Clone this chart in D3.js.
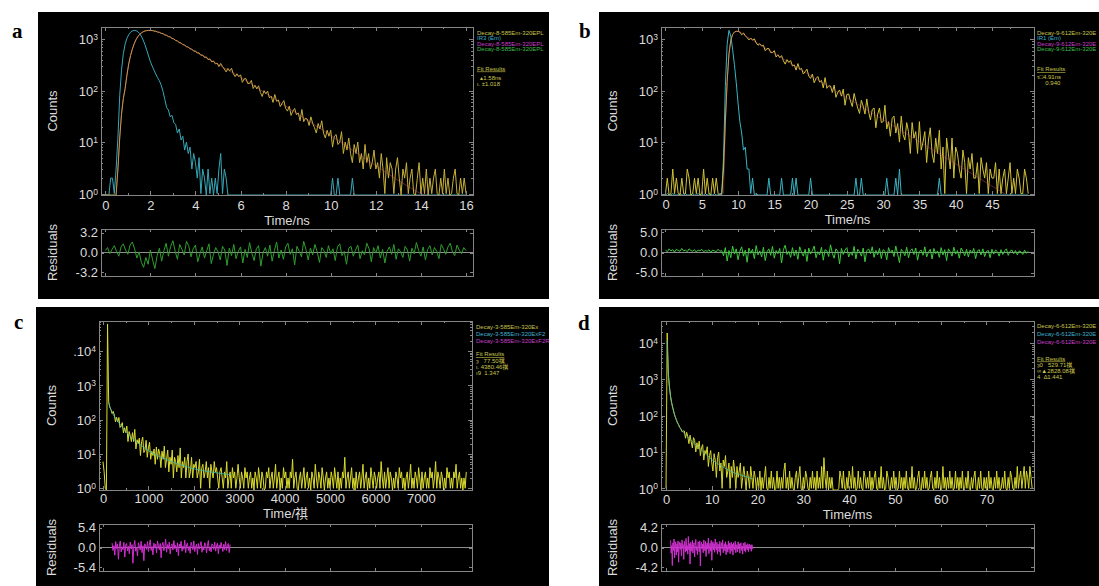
<!DOCTYPE html>
<html>
<head>
<meta charset="utf-8">
<title>decay curves</title>
<style>
  body { margin: 0; background: #fff; }
  svg { display: block; }
</style>
</head>
<body>
<svg id="chart" width="1099" height="586"></svg>
<script src="https://d3js.org/d3.v7.min.js"></script>
<script>
// ---------- panel a : Decay-8-585Em-320EPL (ns) ----------
var aStep = 0.08;
var aDecay = [0,0,0,0,0,0,0,3,
  12,35,70,110,200,330,480,640,810,970,1110,1230,1320,1390,1440,1465,1478,
  1472,1475,1431,1427,1370,1358,1291,1279,1204,1190,1118,1104,1030,1012,940,926,850,845,779,772,705,708,646,640,584,590,
  536,541,484,493,440,452,399,414,361,377,330,
  342,293,337,293,263,231,270,242,271,212,187,212,187,203,
  145,169,171,137,138,158,110,127,108,124,92,77,100,87,98,72,78,59,84,62,66,49,56,64,45,
  40,50,33,40,45,34,37,26,43,25,29,28,21,31,23,19,15,23,18,26,15,12,17,13,17,
  8,13,14,9,10,16,6,10,7,12,6,4,9,6,10,4,6,3,9,4,6,3,4,7,3,
  4,2,6,3,1,5,2,4,3,1,3,5,2,0,3,2,4,1,2,3,1,0,2,4,1,2,1,3,0,2,1,2,3,1,0,2,1,3,1,2,0,1,2,3,1,0,2,1,2,1];
var aIrf = [0,0,0,2,2,1,3,12,80,250,
  520,800,1030,1220,1360,1440,1478,1465,1400,1290,
  1140,960,780,610,470,365,300,250,210,178,
  155,128,96,68,47,42,31,33,24,22,
  15,18,11,13,7,10,6,8,3,6,
  4,2,5,1,3,2,0,3,1,2,
  0,2,1,3,6,1,3,2,
  0,0,0,0,0,0,0,0,0,0, 0,0,0,0,0,0,0,0,0,0, 0,0,0,0,0,0,0,0,0,0, 0,0,0,0,0,0,0,0,0,0, 0,0,0,0,0,0,0,0,0,0,
  0,0,0,0,0,0,0,0,2,0, 0,2,0,0,0,0,0,0,0,2, 0,0,0,0,0,0,0,0,0,0, 0,0,0,0,0,0,0,0,0,0, 0,0,0,0,0,0,0,0,0,0,
  0,0,0,0,0,0,0,0,0,0, 0,0,0,0,0,0,0,0,0,0, 0,0,0,0,0,0,0,0,0,0, 0,0,0];
var aFit = [[0.48,1],[0.56,3],[0.64,12],[0.72,35],[0.8,70],[0.88,110],[0.96,200],[1.04,330],[1.12,480],[1.2,640],
  [1.28,810],[1.36,970],[1.44,1110],[1.52,1230],[1.6,1320],[1.76,1440],[1.92,1478],[2.0,1479],[2.24,1419],[2.56,1265],
  [2.88,1091],[3.2,912],[3.6,724],[4.0,575],[4.8,363],[5.6,229],[6.0,182],[7.0,96],[8.0,50],[9.0,26],
  [10.0,13.5],[11.0,6.8],[12.0,3.5],[13.0,1.8],[13.6,1.25],[14.0,1.0],[14.2,0.9]];
var aResStep = 0.1;
var aRes = [0.3,0.8,-0.2,0.5,1.1,0.2,-0.6,0.9,1.4,0.4,
  -0.3,1.2,1.7,0.6,-0.9,0.1,-1.6,-2.4,-0.8,-1.9,
  0.4,-1.2,-2.6,-0.5,0.7,-1.4,0.3,1.5,-0.6,1.0,
  1.9,0.2,-1.1,1.3,0.5,-0.4,1.8,1.1,-0.7,0.6,
  1.2,-1.5,-0.2,0.9,-0.9,0.3,1.4,-1.8,-0.3,0.8,
  0.1,-1.2,1.0,0.4,-2.1,0.7,-0.5,1.3,-1.0,0.2,
  0.9,-1.7,0.5,-0.8,1.6,-0.1,-1.3,0.6,1.1,-2.2,
  0.0,0.8,-0.6,1.2,-1.4,0.3,1.7,-0.9,0.4,-1.1,
  0.9,1.5,-0.3,0.6,-2.0,1.0,0.2,-0.7,1.8,0.5,
  -1.2,0.7,-0.4,1.3,0.1,-1.6,0.8,0.3,-0.8,1.1,
  -0.2,0.6,-1.3,0.9,1.4,-0.5,0.2,-1.9,0.7,1.0,
  -0.6,0.4,1.2,-1.0,0.3,-0.4,1.5,0.6,-1.5,0.8,
  -0.1,1.1,-0.9,0.5,-1.7,0.2,0.9,-0.3,1.3,-1.1,
  0.6,0.1,-0.8,1.0,0.4,-1.4,0.7,-0.2,1.6,0.3,
  -0.6,0.9,-1.2,0.5,1.1,-0.4,0.8,0.2,-1.0,1.3,
  0.6,-0.3,0.9,1.5,0.1,-0.5,1.2,0.4,-0.2,0.8,
  0.3];
var aXTicks = [0, 2, 4, 6, 8, 10, 12, 14, 16];
var aResTicks = [-3.2, 0, 3.2];
var aLegend = ["Decay-8-585Em-320EPL", "IR3 (Em)", "Decay-8-585Em-320EPL", "Decay-8-585Em-320EPL"];
var aFitText = ["Fit Results", "\u00a0\u00a0\u25b41.58ns", "\u03b9. \u00b11.018"];

// ---------- panel b : Decay-9-612Em-320E (ns) ----------
var bStep = 0.25;
var bDecay = [1,2,0,1,3,1,2,1,0,2,1,1,3,2,0,1,2,1,2,0,1,3,1,2,1,0,2,1,2,1,0,1,
  3,25,150,520,950,1230,1370,1420,1413,
  1374,1217,1313,1172,1071,966,1052,957,1014,845,
  760,814,733,762,595,656,656,549,547,598,
  449,498,437,479,380,327,400,354,384,301,
  316,250,335,257,270,210,233,261,192,173,
  210,142,172,188,146,158,113,179,111,124,
  123,92,128,74,93,103,78,107,52,84,
  86,63,49,88,62,46,36,65,50,35,
  69,39,27,43,46,19,35,46,24,25,
  52,18,25,13,29,32,15,23,10,32,
  14,11,24,16,6,24,12,16,6,25,
  7,10,16,4,11,19,6,4,12,6,
  17,3,8,1,12,6,3,12,2,8,
  6,3,2,7,4,1,5,3,6,2,2,4,1,5,3,2,4,1,3,2,2,4,1,3,1,2,3,1,2,4,1,2,1,3,2,1,1,3,2,1];
var bIrf = [0,1,0,0,1,0,0,0,1,0,0,1,0,0,0,1,0,0,1,0,0,0,1,0,1,0,0,1,0,0,1,0,
  5,120,800,1480,1150,640,320,145,58,25,15,7,8,3,3,1,2,0,1,
  0,0,0,0,0,0,2,0,0,0, 0,0,0,2,0,0,0,0,0,2, 0,2,0,0,0,0,0,0,0,2, 0,0,0,0,0,0,0,0,0,0, 0,0,0,0,0,0,0,0,0,0,
  0,0,0,0,2,0,0,2,0,0, 0,0,0,0,0,0,0,0,0,0, 0,2,0,0,0,0,2,0,3,0, 0,0,0,0,0,0,0,0,0,0, 0,0,0,0,0,0,0,0,0,0,
  2,0,0,0,0,0,0,0,0,0, 0,0,0,0,0,0,0,0,0,0, 0,0,0,0,0,0,0,0,0,0, 0,0,0,0,0,0,0,0,0,0, 0,0,0,0,0,0,0,0,0,0];
var bFit = [[8,1],[8.25,20],[8.5,140],[8.75,500],[9,930],[9.25,1200],[9.5,1350],[9.75,1410],[10,1413],[11,1160],
  [12,952],[14,642],[16,432],[18,291],[20,196],[25,73],[30,27.3],[35,10.2],[40,3.8],[45,1.4],[47,0.95]];
var bResStep = 0.25;
var bRes = [0.6,0.2,0.9,0.4,0.7,0.1,0.8,0.5,0.3,1.0,0.4,0.6,0.2,0.9,0.5,0.3,0.7,0.1,0.6,0.4,0.8,0.2,0.5,0.3,0.7,0.0,0.6,0.4,0.2,0.8,0.3,0.5,
  -0.8,1.2,-2.1,0.5,-1.3,1.6,-0.4,0.9,-1.8,0.3,1.4,-0.9,0.6,
  -2.4,1.1,-0.2,0.8,-1.5,1.7,-0.6,0.4,-1.1,1.3,-2.0,0.2,0.9,
  -0.7,1.5,-1.4,0.5,-0.3,1.0,-2.6,0.7,1.8,-0.5,0.3,-1.2,1.2,
  -0.8,0.6,-1.7,1.4,0.1,-0.9,0.8,-2.2,1.1,-0.4,0.5,1.6,-1.3,
  0.2,-0.6,1.3,-1.9,0.7,0.4,-1.0,1.9,-0.2,-1.4,0.9,0.3,-2.8,
  1.0,-0.5,0.6,1.2,-1.1,0.1,-0.7,1.5,-1.6,0.8,0.2,-0.9,1.1,
  -2.3,0.4,0.9,-0.3,1.4,-1.2,0.5,-0.6,1.0,-1.5,0.7,0.3,-1.8,
  1.2,-0.1,0.6,-1.0,1.6,-0.4,-2.5,0.8,0.2,-0.8,1.3,-1.3,0.5,
  0.9,-0.5,1.1,-1.9,0.3,0.6,-0.7,1.4,-1.1,0.1,0.8,-1.6,1.0,
  -0.3,0.4,-1.2,1.2,-0.6,0.7,-2.0,0.9,0.2,-0.9,1.3,-0.4,0.5,
  -1.4,1.1,0.3,-0.8,0.8,-1.1,0.6,-0.2,1.0,-1.5,0.4,0.7,-0.6,
  0.9,-1.0,0.3,0.5,-1.3,0.8,-0.4,0.6,0.2,-0.9,0.7,-0.5,0.4,
  0.9,-0.7,0.3,0.6,-0.3,0.5,-0.6,0.4,0.2,-0.5,0.6,-0.2,0.3];
var bXTicks = [0, 5, 10, 15, 20, 25, 30, 35, 40, 45];
var bResTicks = [-5, 0, 5];
var bLegend = ["Decay-9-612Em-320E", "IR1 (Em)", "Decay-9-612Em-320E", "Decay-9-612Em-320E"];
var bFitText = ["Fit Results", "\u03c4\u25a14.91ns", "\u00a0\u00a0\u00a0\u00a0\u00a00.940"];

// ---------- panel c : Decay-3-585Em-320Ex ----------
var cStep = 25;
var cDecay = [6,3,1,0,62000,330,232,196,151,175,
  136,87,117,86,116,59,66,82,41,58,
  42,65,23,45,35,23,42,23,52,14,
  26,20,29,9,23,31,11,13,25,8,
  15,22,7,12,9,14,5,16,7,14,
  10,4,12,7,17,4,7,13,3,8,
  5,13,2,8,6,3,9,4,15,2,
  6,4,8,2,6,10,2,3,8,2,
  5,4,6,2,3,7,1,4,5,2,
  3,6,2,4,1,5,3,2,6,3,
  4,
  2,1,3,4,2,1,3,2,6,1,2,3,1,4,2,3,1,2,5,2,1,3,2,1,4,2,3,1,
  2,3,1,2,0,3,2,1,4,2,1,3,2,0,1,3,2,4,1,2,3,1,2,5,
  1,2,3,0,2,1,4,2,3,1,2,1,3,2,7,1,2,3,1,0,2,3,1,2,
  4,1,2,3,1,2,0,3,2,1,5,2,1,3,2,1,4,2,0,2,3,1,2,1,
  3,2,1,4,2,1,3,0,2,1,3,2,8,1,2,3,1,2,4,1,2,0,3,1,
  2,3,1,2,5,1,2,3,0,2,1,4,2,1,3,2,1,2,3,1,6,2,1,3,
  1,2,4,1,3,2,0,2,1,3,2,1,4,2,3,1,2,0,2,3,1,2,5,1,
  2,1,3,2,1,4,2,0,3,1,2,3,1,2,1,4,2,3,1,2,6,1,3,2,
  1,3,2,0,2,1,4,2,3,1,2,1,3,2,5,1,2,3,1,2,0,2,1,3];
var cFit = [[125,316],[150,240],[200,166],[300,100],[400,66],[500,46],[600,33],[700,25],[800,19.5],[900,15.5],
  [1000,12.6],[1200,8.9],[1400,6.8],[1600,5.4],[1800,4.4],[2000,3.7],[2400,2.95],[2800,2.5]];
var cResStart = 200, cResStep = 20;
var cRes = [1.2,-0.8,0.5,-2.1,1.6,-0.3,0.9,-3.2,0.4,1.8,
  -1.2,0.2,-0.6,1.4,-2.6,0.7,1.1,-0.9,0.3,-1.7,
  1.5,-0.4,0.8,-4.3,0.6,1.9,-1.0,0.1,-2.3,1.3,
  0.4,-0.7,1.7,-1.4,0.5,-3.6,1.0,0.2,-0.5,1.6,
  -1.1,0.7,2.1,-0.8,0.3,-2.0,1.2,-0.2,0.9,-1.5,
  1.8,0.4,-0.6,1.1,-2.8,0.6,1.4,-0.9,0.2,2.3,
  -1.3,0.8,-0.4,1.5,-1.8,0.5,1.0,-0.7,1.9,-0.3,
  0.6,-1.2,1.3,-2.2,0.9,0.1,1.7,-1.0,0.4,-0.5,
  2.0,-1.4,0.7,1.2,-0.8,0.3,-1.6,1.4,0.5,-0.6,
  1.8,-1.1,0.2,0.9,-1.9,1.1,-0.4,0.6,1.6,-1.3,
  0.3,-0.7,1.3,0.8,-1.5,0.5,1.9,-0.9,0.2,-1.2,
  1.0,0.6,-0.5,1.5,-1.0,0.4,1.2,-1.7,0.7,-0.3,
  1.4,0.1,-1.1,0.9,-0.6,1.6,-0.8,0.5,1.1,-1.4,
  0.8];
var cXTicks = [0, 1000, 2000, 3000, 4000, 5000, 6000, 7000];
var cResTicks = [-5.4, 0, 5.4];
var cLegend = ["Decay-3-585Em-320Ex", "Decay-3-585Em-320ExF2", "Decay-3-585Em-320ExF2R"];
var cFitText = ["Fit Results", "\u021d\u00a0\u00a0 77.50\u797a", "\u03b9. 4380.46\u797a", "\u01319\u00a0 1.347"];

// ---------- panel d : Decay-6-612Em-320E (ms) ----------
var dStep = 0.25;
var dDecay = [1,19000,1500,620,330,220,160,120,93,78,64,57,47,44,36,38,
  38,24,35,27,17,29,19,13,25,21,
  10,18,12,20,8,13,16,6,11,9,
  14,4,8,11,5,3,9,6,2,7,
  10,3,5,1,6,4,8,2,3,5,
  1,4,2,6,3,1,4,2,3,5,
  1,2,4,2,0,3,2,1,4,2,
  1,3,2,0,2,
  1,3,0,2,1,2,4,1,0,2,1,3,1,2,0,1,3,1,2,0,2,1,3,5,
  1,2,0,3,1,2,1,0,2,3,1,2,4,1,0,2,1,3,2,1,0,2,1,3,
  1,2,0,3,1,2,1,4,1,7,2,1,3,0,2,1,2,0,0,0,0,0,1,3,
  2,1,3,1,0,2,1,3,2,1,4,1,2,0,1,3,1,2,1,0,3,2,1,2,
  1,3,0,2,1,2,3,1,0,2,1,4,1,2,0,1,3,2,1,0,2,1,3,1,
  2,0,1,3,1,2,0,2,1,3,1,0,2,1,4,1,2,0,1,2,3,1,0,2,
  1,3,1,2,0,1,2,3,1,0,2,1,3,1,2,0,1,4,1,2,0,2,1,3,
  1,2,0,1,3,1,2,0,2,1,3,0,1,2,1,3,1,0,2,1,2,3,1,0,
  2,1,3,1,0,2,1,2,0,3,1,2,1,0,2,1,3,1,2,0,1,2,1,3,
  1,0,2,1,3,2,1,0,2,1,4,1,2,3,1,2,4,1,3,2,1,4,2,1];
var dFit = [[0.25,12000],[0.5,1400],[0.75,600],[1,330],[1.5,160],[2,93],[2.5,64],[3,48],[4,32],[5,24],
  [6,18],[7,14],[8,10.5],[9,8],[10,6.2],[12,4.2],[14,3],[16,2.4],[18,2],[19,1.8]];
var dResStart = 1, dResStep = 0.125;
var dRes = [1.5,-1.2,0.4,-3.8,1.0,-0.6,1.8,-2.2,0.3,1.2,
  -1.6,0.7,-0.9,1.4,-3.1,0.5,1.1,-0.4,0.9,-1.8,
  1.6,-0.2,0.6,-2.5,1.3,0.2,-1.0,1.9,-0.7,0.4,
  -1.4,2.3,-0.5,0.8,-3.5,1.1,0.3,-0.8,1.5,-1.2,
  0.6,1.0,-2.0,0.4,1.7,-0.6,0.2,-1.5,1.2,0.8,
  -0.9,1.4,-3.9,0.5,1.1,-0.3,0.7,-1.1,1.6,0.1,
  -0.7,1.3,-1.9,0.6,1.0,-0.4,2.0,-1.3,0.4,0.9,
  -0.8,1.5,-2.7,0.3,1.2,-0.5,0.8,-1.0,1.8,0.2,
  -0.6,1.1,-1.4,0.7,0.4,-0.9,1.3,-1.7,0.5,1.0,
  -0.3,1.6,-1.1,0.2,0.8,-0.7,1.2,-1.5,0.6,0.3,
  -1.0,1.4,-0.4,0.9,-1.3,0.5,1.1,-0.8,0.7,-1.6,
  1.0,0.2,-0.5,1.3,-1.1,0.6,0.4,-0.9,1.2,-0.3,
  0.8,-1.2,0.5,1.0,-0.6,0.3,-1.4,0.9,0.4,-0.7,
  1.1,-1.0,0.6,0.2,-0.5,0.8,-0.9,0.4,0.7,-0.3,
  0.5,-0.8,0.6,0.1,-0.4];
var dXTicks = [0, 10, 20, 30, 40, 50, 60, 70];
var dResTicks = [-4.2, 0, 4.2];
var dLegend = ["Decay-6-612Em-320E", "Decay-6-612Em-320E", "Decay-6-612Em-320E"];
var dFitText = ["Fit Results", "\u021d0\u00a0\u00a0 529.71\u797a", "\u221e\u25b22828.08\u797a", "4\u00a0\u00a0\u2206" + "1.441"];

// ---------- styles ----------
var FONT = '"Liberation Sans", Arial, "Noto Sans CJK SC", sans-serif';
var FRAME = "#858585";
var TXT = "#dcdcdc";
var LY = "#c9c44c", LC = "#3fb3cf", LM = "#c83fc8", LG = "#3bbf47";

var panels = [
  { letter: "a", letterXY: [12, 38], box: [38, 12, 549, 299],
    main: [101, 27, 473, 195], res: [101, 229, 473, 276],
    xDomain: [-0.19, 16.31], yDomain: [0.94, 1720], decades: [1, 10, 100, 1000],
    xTicks: aXTicks, tickPad: 6, xTitle: "Time/ns", titleY: 225, labelX: 56.7,
    resDomain: [-3.8, 3.8], resTicks: aResTicks,
    series: [
      { values: aIrf, t0: 0, dt: aStep, color: "#37a8b9" },
      { values: aDecay, t0: 0, dt: aStep, color: "#c6b03a" },
      { pairs: aFit, color: "#e0607c", opacity: 0.42 }
    ],
    resid: { values: aRes, t0: 0, dt: aResStep, color: "#2f9e2f" },
    legend: { x: 477, ys: [34.9, 40.4, 45.9, 51.3], colors: [LY, LC, LM, LG], texts: aLegend,
      fitYs: [70.5, 79.5, 85.5], fitTexts: aFitText } },
  { letter: "b", letterXY: [579, 38], box: [599, 12, 1099, 299],
    main: [661, 27, 1034, 195], res: [661, 229, 1034, 276],
    xDomain: [-0.62, 50.8], yDomain: [0.94, 1720], decades: [1, 10, 100, 1000],
    xTicks: bXTicks, tickPad: 5, xTitle: "Time/ns", titleY: 224, labelX: 617,
    resDomain: [-5.8, 5.8], resTicks: bResTicks,
    series: [
      { values: bIrf, t0: 0, dt: bStep, color: "#38b4c4" },
      { values: bDecay, t0: 0, dt: bStep, color: "#d2c236" },
      { pairs: bFit, color: "#d04c90", opacity: 0.42 }
    ],
    resid: { values: bRes, t0: 0, dt: bResStep, color: "#3ccb3c" },
    legend: { x: 1037, ys: [34.9, 40.4, 45.9, 51.3], colors: [LY, LC, LM, LG], texts: bLegend,
      fitYs: [71, 78.5, 84.7], fitTexts: bFitText } },
  { letter: "c", letterXY: [14, 329], box: [36, 307, 549, 586],
    main: [99, 321, 472, 490], res: [99, 524, 472, 571],
    xDomain: [-88, 8126], yDomain: [0.89, 75400], decades: [1, 10, 100, 1000, 10000], dotDecade: 4,
    xTicks: cXTicks, tickPad: 4, xTitle: "Time/\u797a", titleY: 518, labelX: 55.5,
    resDomain: [-6.4, 6.4], resTicks: cResTicks,
    series: [
      { values: cDecay, t0: 0, dt: cStep, color: "#dcdc2e" },
      { pairs: cFit, color: "#3cb8b4", opacity: 0.8 }
    ],
    resid: { values: cRes, t0: cResStart, dt: cResStep, color: "#d22ed2" },
    legend: { x: 476, ys: [328.9, 336.1, 343.2], colors: [LY, LC, LM], texts: cLegend,
      fitYs: [356.2, 362.5, 368.7, 375], fitTexts: cFitText } },
  { letter: "d", letterXY: [578, 330], box: [599, 307, 1099, 586],
    main: [661, 321, 1034, 490], res: [661, 524, 1034, 571],
    xDomain: [-1.1, 80.4], yDomain: [0.9, 40600], decades: [1, 10, 100, 1000, 10000],
    xTicks: dXTicks, tickPad: 5, xTitle: "Time/ms", titleY: 519, labelX: 617,
    resDomain: [-4.95, 4.95], resTicks: dResTicks,
    series: [
      { values: dDecay, t0: 0, dt: dStep, color: "#d8d82c" },
      { pairs: dFit, color: "#52b8a6", opacity: 0.8 }
    ],
    resid: { values: dRes, t0: dResStart, dt: dResStep, color: "#d030d0" },
    legend: { x: 1037, ys: [328.4, 336.2, 343.9], colors: [LY, LC, LM], texts: dLegend,
      fitYs: [360.5, 366.7, 372.7, 378.8], fitTexts: dFitText } }
];

var svg = d3.select("#chart");
svg.append("rect").attr("width", 1099).attr("height", 586).attr("fill", "#fff");

function toPoints(s) {
  if (s.pairs) return s.pairs;
  return s.values.map(function (v, i) { return [s.t0 + i * s.dt, v]; });
}

function styleAxis(g) {
  g.select(".domain").remove();
  g.selectAll("line").attr("stroke", FRAME).attr("shape-rendering", "crispEdges");
  g.selectAll("text").attr("fill", TXT).attr("font-size", 13).attr("font-family", FONT);
}

function drawPanel(p, idx) {
  var g = svg.append("g");
  g.append("rect")
    .attr("x", p.box[0]).attr("y", p.box[1])
    .attr("width", p.box[2] - p.box[0]).attr("height", p.box[3] - p.box[1])
    .attr("fill", "#000");

  svg.append("text")
    .attr("x", p.letterXY[0]).attr("y", p.letterXY[1])
    .attr("font-family", '"Liberation Serif", "Times New Roman", serif')
    .attr("font-weight", "bold").attr("font-size", 21).attr("fill", "#000")
    .text(p.letter);

  var m = p.main, r = p.res;
  var x = d3.scaleLinear().domain(p.xDomain).range([m[0], m[2]]);
  var y = d3.scaleLog().domain(p.yDomain).range([m[3], m[1]]).clamp(true);
  var yr = d3.scaleLinear().domain(p.resDomain).range([r[3], r[1]]);
  var lo = p.yDomain[0];

  var step = p.xTicks[1] - p.xTicks[0];
  var xMinor = d3.range(p.xTicks[0] + step / 2, p.xDomain[1], step);
  var yMinor = [];
  p.decades.forEach(function (dv) {
    for (var k = 2; k <= 9; k++) {
      if (k * dv > p.yDomain[0] && k * dv < p.yDomain[1]) yMinor.push(k * dv);
    }
  });

  // clip areas
  g.append("clipPath").attr("id", "clipm" + idx).append("rect")
    .attr("x", m[0]).attr("y", m[1]).attr("width", m[2] - m[0]).attr("height", m[3] - m[1]);
  g.append("clipPath").attr("id", "clipr" + idx).append("rect")
    .attr("x", r[0]).attr("y", r[1]).attr("width", r[2] - r[0]).attr("height", r[3] - r[1]);

  // main curves
  var rawLine = d3.line()
    .x(function (d) { return x(d[0]); })
    .y(function (d) { return y(d[1] > 0 ? d[1] : lo); });
  var fitLine = d3.line().curve(d3.curveMonotoneX)
    .x(function (d) { return x(d[0]); })
    .y(function (d) { return y(d[1] > 0 ? d[1] : lo); });
  var plot = g.append("g").attr("clip-path", "url(#clipm" + idx + ")");
  p.series.forEach(function (s) {
    plot.append("path")
      .datum(toPoints(s))
      .attr("d", s.pairs ? fitLine : rawLine)
      .attr("fill", "none")
      .attr("stroke", s.color)
      .attr("stroke-opacity", s.opacity || 1)
      .attr("stroke-width", 1)
      .attr("stroke-linejoin", "round");
  });

  // residuals
  var resLine = d3.line()
    .x(function (d) { return x(d[0]); })
    .y(function (d) { return yr(d[1]); });
  var rplot = g.append("g").attr("clip-path", "url(#clipr" + idx + ")");
  rplot.append("line")
    .attr("x1", r[0]).attr("x2", r[2]).attr("y1", yr(0)).attr("y2", yr(0))
    .attr("stroke", "#8e8e8e").attr("stroke-width", 1);
  rplot.append("path")
    .datum(toPoints(p.resid))
    .attr("d", resLine)
    .attr("fill", "none")
    .attr("stroke", p.resid.color)
    .attr("stroke-width", 1)
    .attr("stroke-linejoin", "round");

  // frames
  [m, r].forEach(function (f) {
    g.append("rect")
      .attr("x", f[0] + 0.5).attr("y", f[1] + 0.5)
      .attr("width", f[2] - f[0]).attr("height", f[3] - f[1])
      .attr("fill", "none").attr("stroke", FRAME).attr("shape-rendering", "crispEdges");
  });

  // main x axis
  var xb = g.append("g").attr("transform", "translate(0," + m[3] + ")")
    .call(d3.axisBottom(x).tickValues(p.xTicks).tickSize(-4).tickPadding(p.tickPad).tickFormat(d3.format("d")));
  styleAxis(xb);
  styleAxis(g.append("g").attr("transform", "translate(0," + m[3] + ")")
    .call(d3.axisBottom(x).tickValues(xMinor).tickSize(-2).tickFormat("")));
  styleAxis(g.append("g").attr("transform", "translate(0," + m[1] + ")")
    .call(d3.axisTop(x).tickValues(p.xTicks).tickSize(-4).tickFormat("")));
  styleAxis(g.append("g").attr("transform", "translate(0," + m[1] + ")")
    .call(d3.axisTop(x).tickValues(xMinor).tickSize(-2).tickFormat("")));

  // main log y axis
  var yl = g.append("g").attr("transform", "translate(" + m[0] + ",0)")
    .call(d3.axisLeft(y).tickValues(p.decades).tickSize(-4).tickFormat(""));
  styleAxis(yl);
  yl.selectAll(".tick").each(function (dv) {
    var k = Math.round(Math.log10(dv));
    var t = d3.select(this).append("text")
      .attr("x", -3).attr("dy", "0.36em").attr("text-anchor", "end")
      .attr("fill", TXT).attr("font-size", 13).attr("font-family", FONT);
    t.append("tspan").text((p.dotDecade === k ? "." : "") + "10");
    t.append("tspan").attr("dy", "-0.5em").attr("font-size", 8.5).text(k);
  });
  styleAxis(g.append("g").attr("transform", "translate(" + m[0] + ",0)")
    .call(d3.axisLeft(y).tickValues(yMinor).tickSize(-2).tickFormat("")));
  styleAxis(g.append("g").attr("transform", "translate(" + m[2] + ",0)")
    .call(d3.axisRight(y).tickValues(p.decades).tickSize(-4).tickFormat("")));
  styleAxis(g.append("g").attr("transform", "translate(" + m[2] + ",0)")
    .call(d3.axisRight(y).tickValues(yMinor).tickSize(-2).tickFormat("")));

  // residual axes
  styleAxis(g.append("g").attr("transform", "translate(" + r[0] + ",0)")
    .call(d3.axisLeft(yr).tickValues(p.resTicks).tickSize(-3).tickPadding(3)
      .tickFormat(function (d) { return d.toFixed(1); })));
  styleAxis(g.append("g").attr("transform", "translate(" + r[2] + ",0)")
    .call(d3.axisRight(yr).tickValues(p.resTicks).tickSize(-3).tickFormat("")));
  styleAxis(g.append("g").attr("transform", "translate(0," + r[3] + ")")
    .call(d3.axisBottom(x).tickValues(p.xTicks).tickSize(-3).tickFormat("")));
  styleAxis(g.append("g").attr("transform", "translate(0," + r[1] + ")")
    .call(d3.axisTop(x).tickValues(p.xTicks).tickSize(-3).tickFormat("")));

  // titles
  g.append("text")
    .attr("x", (m[0] + m[2]) / 2).attr("y", p.titleY)
    .attr("text-anchor", "middle").attr("fill", TXT)
    .attr("font-size", 13).attr("font-family", FONT)
    .text(p.xTitle);
  g.append("text")
    .attr("transform", "translate(" + p.labelX + "," + (m[1] + m[3]) / 2 + ") rotate(-90)")
    .attr("text-anchor", "middle").attr("fill", TXT)
    .attr("font-size", 13).attr("font-family", FONT)
    .text("Counts");
  g.append("text")
    .attr("transform", "translate(" + p.labelX + "," + (r[1] + r[3]) / 2 + ") rotate(-90)")
    .attr("text-anchor", "middle").attr("fill", TXT)
    .attr("font-size", 13).attr("font-family", FONT)
    .text("Residuals");

  // legend
  var L = p.legend;
  L.texts.forEach(function (s, i) {
    g.append("text")
      .attr("x", L.x).attr("y", L.ys[i])
      .attr("fill", L.colors[i]).attr("font-size", 6).attr("font-family", FONT)
      .text(s);
  });
  L.fitTexts.forEach(function (s, i) {
    g.append("text")
      .attr("x", L.x).attr("y", L.fitYs[i])
      .attr("fill", LY).attr("font-size", 6).attr("font-family", FONT)
      .attr("text-decoration", i === 0 ? "underline" : null)
      .text(s);
  });
}

panels.forEach(drawPanel);
</script>
</body>
</html>
